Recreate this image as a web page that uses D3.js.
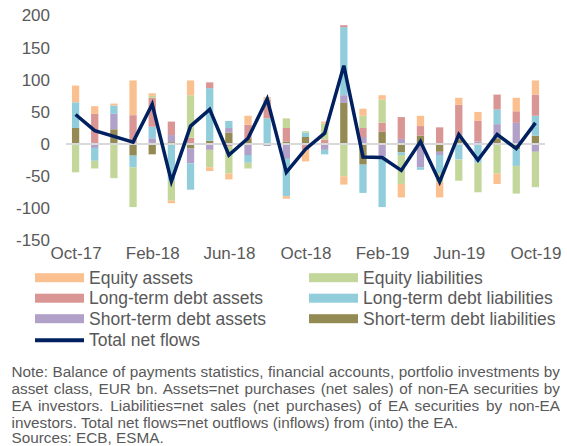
<!DOCTYPE html>
<html>
<head>
<meta charset="utf-8">
<script src="https://cdn.jsdelivr.net/npm/d3@7"></script>
<style>
  body { margin: 0; background: #fff; }
  svg { display: block; font-family: Arial, "Liberation Sans", sans-serif; }
</style>
</head>
<body>
<svg width="567" height="446"></svg>
<script>
let months = ['Oct-17','Nov-17','Dec-17','Jan-18','Feb-18','Mar-18','Apr-18','May-18','Jun-18','Jul-18','Aug-18','Sep-18',
              'Oct-18','Nov-18','Dec-18','Jan-19','Feb-19','Mar-19','Apr-19','May-19','Jun-19','Jul-19','Aug-19','Sep-19','Oct-19']
let tickLabels = ['Oct-17','Feb-18','Jun-18','Oct-18','Feb-19','Jun-19','Oct-19']
let yTicks = [-150, -100, -50, 0, 50, 100, 150, 200]

let equityAssets = [26, 12, 3, 54, 4, -4, 23, -6, -9, 14, 3, -4, -18, 3, -13, 11, 7, -21, 16, -23, 11, 14, -16, 21, 22]
let equityLiab   = [-44, -12, -53, -62, 3, -32, 66, -27, -43, -9, 1, 15, 2, 25, -50, 19, 36, -45, 0, -15, -33, -46, -46, -43, -55]
let ltDebtAssets = [0, 47, 0, 45, 45, 21, 10, 9, -3, 21, 29, 21, -9, 7, 3, 14, 14, 34, 15, 26, 54, 32, 23, 18, 33]
let ltDebtLiab   = [40, -20, 13, -18, 18, -56, -41, 82, 11, -12, 40, -58, 7, -7, 106, -44, -79, -4, -4, -28, -24, -29, 23, -26, 31]
let stDebtAssets = [0, -6, 24, 0, 9, 11, -23, -9, 7, -17, -3, -23, 0, -9, 12, 11, -19, 8, -36, -5, 0, 4, 22, 33, -12]
let stDebtLiab   = [25, 0, 23, -18, -16, 3, -7, 5, 18, 9, 0, 4, 11, 0, 64, -32, 19, -13, 13, -12, 7, 0, 9, -8, 13]
let totalNet     = [46, 21, 12, 3, 62, -58, 28, 54, -17, 9, 70, -44, -8, 17, 122, -20, -21, -41, 4, -59, 15, -25, 15, -7, 33]

let seriesNames = ['Equity assets','Equity liabilities','Long-term debt assets','Long-term debt liabilities','Short-term debt assets','Short-term debt liabilities']
let seriesColors = ['#FAC090','#C4D79B','#DA9694','#92CDDC','#B1A0C7','#948A54']
let lineColor = '#002060'

let noteLines = [
  'Note: Balance of payments statistics, financial accounts, portfolio investments by',
  'asset class, EUR bn. Assets=net purchases (net sales) of non-EA securities by',
  'EA investors. Liabilities=net sales (net purchases) of EA securities by non-EA',
  'investors. Total net flows=net outflows (inflows) from (into) the EA.',
  'Sources: ECB, ESMA.'
]

let seriesValues = [equityAssets, equityLiab, ltDebtAssets, ltDebtLiab, stDebtAssets, stDebtLiab]
let table = months.map((m, i) => {
    let row = { month: m }
    seriesNames.forEach((name, s) => { row[name] = seriesValues[s][i] })
    return row
})

let svg = d3.select('svg')
let textColor = '#595959'

let x = d3.scaleBand().domain(months).range([66, 545]).paddingInner(0.62).paddingOuter(0.31)
let y = d3.scaleLinear().domain([-150, 200]).range([240.5, 15.5])

// stacking goes from the last series up, like the original
let stackKeys = seriesNames.slice().reverse()
let stacked = d3.stack().keys(stackKeys).offset(d3.stackOffsetDiverging)(table)

svg.append('g')
    .selectAll('g')
    .data(stacked)
    .enter()
    .append('g')
    .attr('fill', d => seriesColors[seriesNames.indexOf(d.key)])
    .selectAll('rect')
    .data(d => d)
    .enter()
    .append('rect')
    .attr('x', d => x(d.data.month))
    .attr('width', x.bandwidth())
    .attr('y', d => y(Math.max(d[0], d[1])))
    .attr('height', d => Math.abs(y(d[0]) - y(d[1])))

svg.append('line')
    .attr('x1', 66).attr('x2', 545)
    .attr('y1', y(0)).attr('y2', y(0))
    .attr('stroke', '#D9D9D9')
    .attr('stroke-width', 2)

let line = d3.line()
    .x((d, i) => x(months[i]) + x.bandwidth() / 2)
    .y(d => y(d))

svg.append('path')
    .datum(totalNet)
    .attr('d', line)
    .attr('fill', 'none')
    .attr('stroke', lineColor)
    .attr('stroke-width', 3.5)

// y axis (plain hyphen for negatives)
let yAxis = d3.axisLeft(y).tickValues(yTicks).tickFormat(d => String(d)).tickSize(0).tickPadding(0)
let yG = svg.append('g').attr('transform', 'translate(50,0)').call(yAxis)
yG.select('.domain').remove()
yG.selectAll('text').attr('font-size', 17).attr('fill', textColor).attr('font-family', 'Arial, "Liberation Sans", sans-serif')

// x labels
let xLab = d3.scalePoint().domain(tickLabels)
    .range([x(months[0]) + x.bandwidth() / 2, x(months[24]) + x.bandwidth() / 2])
let xAxis = d3.axisBottom(xLab).tickSize(0).tickPadding(0)
let xG = svg.append('g').attr('transform', 'translate(0,247)').call(xAxis)
xG.select('.domain').remove()
xG.selectAll('text').attr('font-size', 17).attr('fill', textColor).attr('font-family', 'Arial, "Liberation Sans", sans-serif')

// legend
let legendItems = [
    { name: seriesNames[0], color: seriesColors[0], col: 0, row: 0 },
    { name: seriesNames[1], color: seriesColors[1], col: 1, row: 0 },
    { name: seriesNames[2], color: seriesColors[2], col: 0, row: 1 },
    { name: seriesNames[3], color: seriesColors[3], col: 1, row: 1 },
    { name: seriesNames[4], color: seriesColors[4], col: 0, row: 2 },
    { name: seriesNames[5], color: seriesColors[5], col: 1, row: 2 },
    { name: 'Total net flows', color: lineColor, col: 0, row: 3, line: true }
]
let legendX = [35, 309]
let legendY = [277.7, 298.2, 318.7, 340.3]

let leg = svg.append('g')
    .selectAll('g')
    .data(legendItems)
    .enter()
    .append('g')
    .attr('transform', d => `translate(${legendX[d.col]},${legendY[d.row]})`)

leg.filter(d => !d.line).append('rect')
    .attr('x', 0).attr('y', -4.5).attr('width', 49).attr('height', 9)
    .attr('fill', d => d.color)
leg.filter(d => d.line).append('line')
    .attr('x1', 0).attr('x2', 49).attr('y1', 0).attr('y2', 0)
    .attr('stroke', d => d.color).attr('stroke-width', 4)
leg.append('text')
    .attr('x', 54).attr('y', 0).attr('dy', '0.35em')
    .attr('font-size', 17.5).attr('fill', textColor)
    .text(d => d.name)

// note, first three lines justified
let noteY = [372, 389, 406, 422.5, 438]
let noteLeft = 11.5, noteRight = 560
noteLines.forEach((t, i) => {
    let txt = svg.append('text')
        .attr('x', noteLeft).attr('y', noteY[i]).attr('dy', '0.35em')
        .attr('font-size', 15.3).attr('fill', textColor)
        .text(t)
    if (i < 3) {
        let w = txt.node().getComputedTextLength()
        let gaps = t.split(' ').length - 1
        txt.attr('word-spacing', (noteRight - noteLeft - w) / gaps)
    }
})
</script>
</body>
</html>
